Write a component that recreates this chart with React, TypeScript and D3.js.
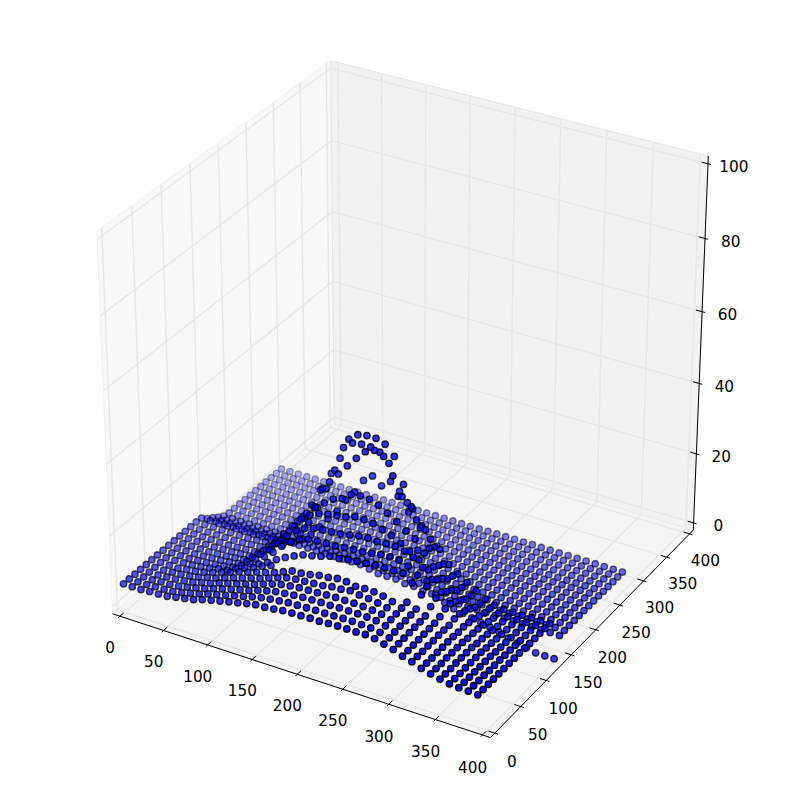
import React from "react";
import * as d3 from "d3";

const W = 794, H = 795;
const xTicks = [0,50,100,150,200,250,300,350,400];
const yTicks = [0,50,100,150,200,250,300,350,400];
const zTicks = [0,20,40,60,80,100];
const xs = d3.range(0,400,10);
const ys = d3.range(0,300,10);
const _ = null;
const zRows:(number|null)[][] = [
[6,6,6,6.2,6.3,6.5,7,7.5,8,8.8,9.4,10,10.6,11.1,11.7,12.2,12.3,12.6,13,13.1,13.2,13.3,13.3,13.5,13.6,13.6,13.6,13.7,13.4,12.7,12,11,10.3,9.3,8.6,8,7.5,7.3,7.2,7],
[6,6,6,6.2,6.3,6.5,7,7.6,8.2,9,9.6,10.2,10.9,11.5,12.2,12.8,13.2,13.5,13.8,13.9,14,14.1,14.1,14.2,14.3,14.3,14.2,14.1,13.7,13,12.2,11.1,10.3,9.3,8.6,8,7.5,7.3,7.2,7],
[6,6,6,6.2,6.3,6.6,7.1,7.7,8.3,9.1,9.8,10.5,11.2,11.8,12.6,13.3,13.9,14.2,14.5,14.7,14.8,14.9,14.9,15,15,15,14.9,14.7,14.1,13.2,12.3,11.2,10.3,9.3,8.6,8,7.5,7.3,7.2,7],
[6,6,6,6.2,6.4,6.7,7.1,7.8,8.4,9.3,10,10.7,11.4,12.1,13,13.8,14.5,14.9,15.2,15.3,15.4,15.6,15.7,15.7,15.7,15.6,15.4,15.1,14.4,13.4,12.4,11.3,10.4,9.4,8.7,8.1,7.6,7.3,7.2,7],
[6,6,6,6.2,6.4,6.7,7.2,7.9,8.5,9.4,10.2,10.9,11.7,12.4,13.3,14.2,15,15.4,15.6,15.8,16,16.5,16.6,17,16.6,16.4,16,15.5,14.6,13.5,12.5,11.4,10.4,9.4,8.7,8.1,7.6,7.3,7.1,7],
[6,6,6,6,6.4,6.7,7.2,7.9,8.7,9.6,10.5,11.2,12,12.7,13.5,14.5,15.5,15.7,16.1,16.7,16.9,17.4,17.3,16.8,17,16.9,16.5,15.8,14.8,13.7,12.6,11.5,10.5,9.5,8.7,8.1,7.6,7.3,7.1,7],
[6,6,6,6.1,6.3,6.6,7,7.6,8,9.2,10.2,11.2,12.3,13.3,_,_,_,_,_,_,_,_,_,_,_,_,_,_,15,13.9,12.8,11.6,10.5,9.5,8.7,8.1,7.6,7.3,7.1,7],
[6,6,6,6,6.2,6.4,6.7,7,7.5,8.7,10,10.8,12,13.6,15,16.2,17.3,17.8,18.5,19.3,19.4,19.9,20.2,20.5,20.8,20.8,20.8,20.9,19,16.5,14,12,10.4,9.3,8.4,7.8,7.4,7.1,7,7],
[6,6,6,6,6.1,6.3,6.5,6.8,7.2,8.5,10,11.5,13.5,16,18,19.5,20.3,20.6,20.7,20.8,21.2,21.4,21.5,21.9,22.3,22.5,22.3,21.5,19.8,17.5,15,12.8,10.8,9.4,8.4,7.7,7.3,7,7,7],
[6,6,6,6,6,6.2,6.3,6.6,6.9,8.3,10,12,14.8,17.5,19.8,21.3,22,22.4,22.6,22.8,23.3,23.8,24,23.8,24,24,23.5,22.5,20.5,18,15.2,12.8,10.8,9.2,8.2,7.5,7.1,6.9,6.9,6.9],
[6,6,6,6,6,6.1,6.2,6.4,6.6,8,10,12.5,16,19,21.8,23.6,24.8,25.4,25.8,26.2,27,27,26.7,25.8,25,23.5,22,20.5,18.5,16.5,14,12,10.2,8.8,7.9,7.2,6.9,6.8,6.8,6.8],
[6,6,6,6,6,6,6.1,6.3,6.4,7.5,9.5,12,15.6,19,22,24.5,26.5,28.3,29.2,31.1,31.5,31.3,30.4,29,27.4,25.6,24.2,21,18,15.5,13,11,9.4,8.2,7.4,6.9,6.8,6.8,6.8,6.8],
[6,6,6,6,6,6,6.1,6.3,6.5,7.5,9,12,15.5,19,23,28,31,34,37,39.8,42.4,43.5,42.6,38,33,31,26,21,17,14,11.5,9.8,8.4,7.6,7,6.8,6.8,6.8,6.8,6.8],
[6,6,6,6,6,6,6,6.2,6.5,6.8,7.3,9,12,16,21,27,33,40,42,42.4,42.4,41.7,39.4,31,30,26,24,20,16,13.5,11,9.5,8.2,7.4,7,6.8,6.8,6.8,6.8,6.8],
[5.8,5.8,5.8,5.8,5.8,5.8,5.8,5.9,6,6.2,7,11,15,19,25,30,35,41,43,43.5,43.5,42.6,40,33,27,23,20,18,14.5,12.6,11,9.5,8,7,6.6,6.6,6.6,6.7,6.7,6.7],
[4.3,4.3,4.3,4.3,4.3,4.3,4.3,4.3,4.4,4.6,5,7,9,12,15,18,22,25,29,31,29,31,29,24,14,6,3,1.5,.5,0,-.5,-1,-1.5,-2,-3,-3.5,-4,-4.7,-4.7,-4.7],
[3.2,3.2,3.2,3.2,3.2,3.2,3.2,3.2,3.2,3.2,3,3,3,3,3,3,3,3,2.5,2,2,2,1.5,1.5,1,1,.8,.6,.5,.5,.5,.5,.5,.5,.5,.5,.5,.5,.5,.5],
[2,2,2,2,2,2,2,2,2,2,2,2,2,2,2,2,2,2,1.8,1.5,1.5,1.5,1.2,1,.8,.8,.6,.5,.5,.5,.5,.5,.5,.5,.5,.5,.5,.5,.5,.5],
[1,1,1,1,1,1,1,1,1,1,1,1,1,1,1,1,1,1,1,1,.9,.9,.8,.7,.6,.6,.5,.5,.5,.5,.5,.5,.5,.5,.5,.5,.5,.5,.5,.5],
[.6,.6,.6,.6,.6,.6,.6,.6,.6,.6,.6,.6,.6,.6,.6,.6,.6,.6,.6,.6,.6,.6,.6,.6,.5,.5,.5,.5,.5,.5,.5,.5,.5,.5,.5,.5,.5,.5,.5,.5],
[.6,.6,.6,.6,.6,.6,.6,.6,.6,.6,.6,.6,.6,.6,.6,.6,.6,.6,.6,.6,.6,.6,.6,.6,.5,.5,.5,.5,.5,.5,.5,.5,.5,.5,.5,.5,.5,.5,.5,.5],
[.6,.6,.6,.6,.6,.6,.6,.6,.6,.6,.6,.6,.6,.6,.6,.6,.6,.6,.6,.6,.6,.6,.6,.6,.5,.5,.5,.5,.5,.5,.5,.5,.5,.5,.5,.5,.5,.5,.5,.5],
[.5,.5,.5,.5,.5,.5,.5,.5,.5,.5,.5,.5,.5,.5,.5,.5,.5,.5,.5,.5,.5,.5,.5,.5,.5,.5,.5,.5,.5,.5,.5,.5,.5,.5,.5,.5,.5,.5,.5,.5],
[.5,.5,.5,.5,.5,.5,.5,.5,.5,.5,.5,.5,.5,.5,.5,.5,.5,.5,.5,.5,.5,.5,.5,.5,.5,.5,.5,.5,.5,.5,.5,.5,.5,.5,.5,.5,.5,.5,.5,.5],
[.5,.5,.5,.5,.5,.5,.5,.5,.5,.5,.5,.5,.5,.5,.5,.5,.5,.5,.5,.5,.5,.5,.5,.5,.5,.5,.5,.5,.5,.5,.5,.5,.5,.5,.5,.5,.5,.5,.5,.5],
[.4,.4,.4,.4,.4,.4,.4,.4,.4,.4,.4,.4,.4,.4,.4,.4,.4,.4,.4,.4,.4,.4,.4,.4,.4,.4,.4,.4,.4,.4,.4,.4,.4,.4,.4,.4,.4,.4,.4,.4],
[.4,.4,.4,.4,.4,.4,.4,.4,.4,.4,.4,.4,.4,.4,.4,.4,.4,.4,.4,.4,.4,.4,.4,.4,.4,.4,.4,.4,.4,.4,.4,.4,.4,.4,.4,.4,.4,.4,.4,.4],
[.4,.4,.4,.4,.4,.4,.4,.4,.4,.4,.4,.4,.4,.4,.4,.4,.4,.4,.4,.4,.4,.4,.4,.4,.4,.4,.4,.4,.4,.4,.4,.4,.4,.4,.4,.4,.4,.4,.4,.4],
[.3,.3,.3,.3,.3,.3,.3,.3,.3,.3,.3,.3,.3,.3,.3,.3,.3,.3,.3,.3,.3,.3,.3,.3,.4,.4,.4,.4,.4,.4,.4,.4,.4,.4,.4,.4,.4,.4,.4,.4],
[.3,.3,.3,.3,.3,.3,.3,.3,.3,.3,.3,.3,.3,.3,.3,.3,.3,.3,.3,.3,.3,.3,.3,.3,.4,.4,.4,.4,.4,.4,.4,.4,.4,.4,.4,.4,.4,.4,.4,.4],
];

const sx = d3.scaleLinear().domain([0,400]).range([0,1]);
const sy = d3.scaleLinear().domain([0,400]).range([0,1]);
const sz = d3.scaleLinear().domain([0,100]).range([0,1]);
const px = d3.scaleLinear().domain([-0.0974,0.0923]).range([0,W]);
const py = d3.scaleLinear().domain([-0.09736,0.09238]).range([H,0]);
function proj(x:number,y:number,z:number){
  const a=sx(x)-.5,b=sy(y)-.5,c=sz(z)-.5;
  const ca=Math.cos(-Math.PI/3),sa=Math.sin(-Math.PI/3),ce=Math.cos(Math.PI/6),se=Math.sin(Math.PI/6);
  const nx=ce*ca,ny=ce*sa,nz=se;
  const ux=-sa,uy=ca;
  const vx=-nz*uy,vy=nz*ux,vz=nx*uy-ny*ux;
  const U=ux*a+uy*b, V=vx*a+vy*b+vz*c, N=nx*a+ny*b+nz*c;
  const w=10-N;
  return {x:px(U/w),y:py(V/w),d:N};
}
const dx=400/48, dz=100/48;
const x0=-dx,x1=400+dx,y0=-dx,y1=400+dx,z0=-dz,z1=100+dz;
const poly=(pts:number[][])=>pts.map(p=>{const q=proj(p[0],p[1],p[2]);return q.x+","+q.y}).join(" ");
function seg(a:number[],b:number[],stroke:string,sw:number,key:string){
  const p=proj(a[0],a[1],a[2]),q=proj(b[0],b[1],b[2]);
  return <line key={key} x1={p.x} y1={p.y} x2={q.x} y2={q.y} stroke={stroke} strokeWidth={sw}/>;
}
const font={fontFamily:"DejaVu Sans",fontSize:15.3,fill:"#000"};
const GRID="#e6e6e6";
const L=0.55, LDY=6.5;
export default function App(){
  const pts=[] as {x:number,y:number,d:number}[];
  ys.forEach((y,j)=>xs.forEach((x,i)=>{const z=zRows[j][i]; if(z!==null) pts.push(proj(x,y,z))}));
  const ext=d3.extent(pts,p=>p.d) as [number,number];
  const alpha=d3.scaleLinear().domain(ext).range([.3,1]);
  pts.sort((a,b)=>d3.ascending(a.d,b.d));
  return <svg width={W} height={H} style={{position:"absolute",left:0,top:0}}>
    <polygon points={poly([[x0,y0,z0],[x0,y1,z0],[x0,y1,z1],[x0,y0,z1]])} fill="#f2f2f2" fillOpacity={.5} stroke="#f2f2f2" />
    <polygon points={poly([[x0,y1,z0],[x1,y1,z0],[x1,y1,z1],[x0,y1,z1]])} fill="#e6e6e6" fillOpacity={.5} stroke="#e6e6e6"/>
    <polygon points={poly([[x0,y0,z0],[x1,y0,z0],[x1,y1,z0],[x0,y1,z0]])} fill="#ececec" fillOpacity={.5} stroke="#ececec"/>
    {xTicks.map(t=><g key={"gx"+t}>{seg([t,y0,z0],[t,y1,z0],GRID,1.4,"a")}{seg([t,y1,z0],[t,y1,z1],GRID,1.4,"b")}</g>)}
    {yTicks.map(t=><g key={"gy"+t}>{seg([x1,t,z0],[x0,t,z0],GRID,1.4,"a")}{seg([x0,t,z0],[x0,t,z1],GRID,1.4,"b")}</g>)}
    {zTicks.map(t=><g key={"gz"+t}>{seg([x0,y0,t],[x0,y1,t],GRID,1.4,"a")}{seg([x0,y1,t],[x1,y1,t],GRID,1.4,"b")}</g>)}
    {seg([x0,y0,z0],[x1,y0,z0],"#000",1,"ax")}
    {seg([x1,y0,z0],[x1,y1,z0],"#000",1,"ay")}
    {seg([x1,y1,z0],[x1,y1,z1],"#000",1,"az")}
    {xTicks.map(t=>{const q=proj(t,y0-L*33.3,z0-L*8.33);return <g key={"tx"+t}>{seg([t,y0-.1*33.3,z0],[t,y0+.2*33.3,z0],"#000",1,"t")}<text x={q.x} y={q.y+LDY} textAnchor="middle" dominantBaseline="central" {...font}>{t}</text></g>})}
    {yTicks.map(t=>{const q=proj(x1+L*33.3,t,z0-L*8.33);return <g key={"ty"+t}>{seg([x1+.1*33.3,t,z0],[x1-.2*33.3,t,z0],"#000",1,"t")}<text x={q.x} y={q.y+LDY} textAnchor="middle" dominantBaseline="central" {...font}>{t}</text></g>})}
    {zTicks.map(t=>{const q=proj(x1+L*33.3,y1+L*33.3,t);return <g key={"tz"+t}>{seg([x1+.1*33.3,y1,t],[x1-.2*33.3,y1,t],"#000",1,"t")}<text x={q.x} y={q.y+LDY} textAnchor="middle" dominantBaseline="central" {...font}>{t}</text></g>})}
    {pts.map((p,i)=>{const a=alpha(p.d);return <circle key={i} cx={p.x} cy={p.y} r={3.2} fill="#0000ff" fillOpacity={a} stroke="#000" strokeOpacity={a} strokeWidth={1.39}/>})}
  </svg>;
}
